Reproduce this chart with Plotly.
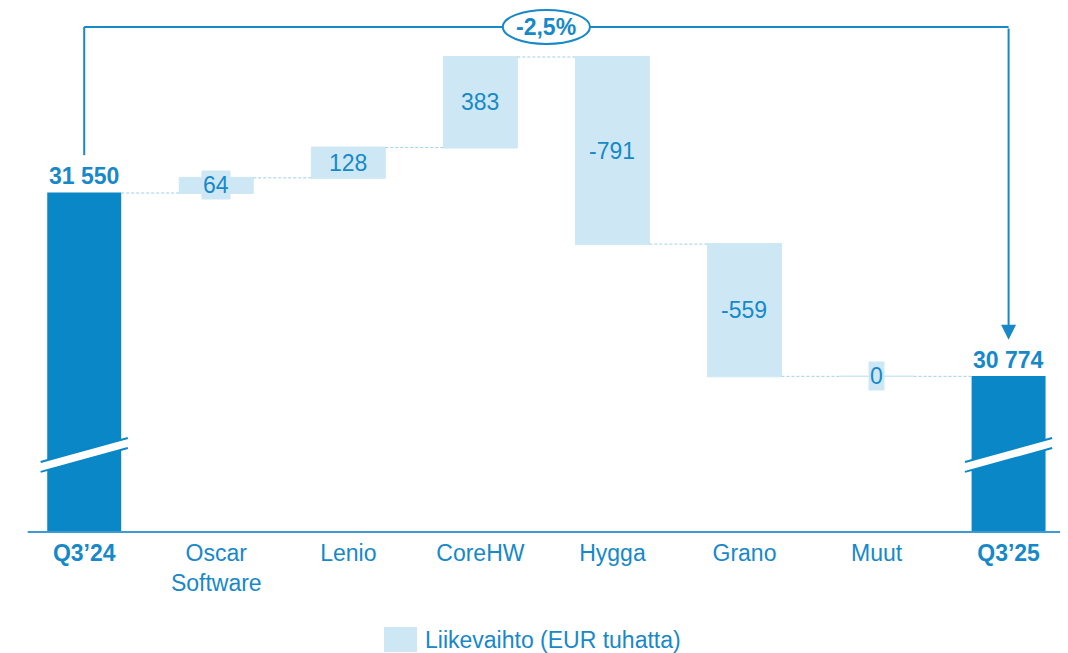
import plotly.graph_objects as go

# ---- data ----
categories = ["<b>Q3’24</b>", "Oscar<br>Software", "Lenio", "CoreHW", "Hygga", "Grano", "Muut", "<b>Q3’25</b>"]
measures = ["absolute", "relative", "relative", "relative", "relative", "relative", "relative", "absolute"]
values = [31550, 64, 128, 383, -791, -559, 0, 30774]
value_labels = ["31 550", "64", "128", "383", "-791", "-559", "0", "30 774"]
change_label = "-2,5%"
legend_label = "Liikevaihto (EUR tuhatta)"

# ---- styles ----
DARK = "#0987c6"
LIGHT = "#cde8f4"
TEXT = "#1788c8"
CONN = "#9fd0ea"
FONT = "Arial, Liberation Sans, sans-serif"
FS = 23

# page body has an 8px margin -> figure is 8px smaller
W, H = 1060, 645
ML, MR, MT, MB = 30, 0, 0, 121
Y0, Y1 = 30117, 32332
X0, X1 = -0.35, 7.45
BW = 0.56

xs = list(range(len(categories)))

fig = go.Figure()
fig.add_trace(go.Waterfall(
    x=xs, y=values, measure=measures,
    width=BW,
    textinfo="none",
    increasing=dict(marker=dict(color=LIGHT, line=dict(color=LIGHT, width=1))),
    decreasing=dict(marker=dict(color=LIGHT, line=dict(color=LIGHT, width=1))),
    totals=dict(marker=dict(color=DARK, line=dict(color=DARK, width=0))),
    connector=dict(mode="between", line=dict(color=CONN, width=1, dash="3px,2px")),
    showlegend=False,
    hoverinfo="skip",
))

# cumulative levels for label placement
levels = []
run = 0
for m, v in zip(measures, values):
    if m == "absolute":
        run = v
        levels.append((0, run))
    else:
        start = run
        run = run + v
        levels.append((start, run))

shapes = []
annotations = []
for i, (m, (a, b)) in enumerate(zip(measures, levels)):
    if m == "absolute":
        annotations.append(dict(x=i, y=b, text=f"<b>{value_labels[i]}</b>", showarrow=False,
                                yanchor="bottom", yshift=2, font=dict(size=FS, color=TEXT, family=FONT)))
    else:
        if a == b:
            # zero-height bar drawn as a thin line
            shapes.append(dict(type="line", xref="x", yref="y", x0=i - BW / 2, x1=i + BW / 2,
                               y0=a, y1=b, line=dict(color=LIGHT, width=1.5)))
        annotations.append(dict(x=i, y=(a + b) / 2, text=value_labels[i], showarrow=False,
                                bgcolor=LIGHT, borderpad=1,
                                font=dict(size=FS, color=TEXT, family=FONT)))

# change arrow
top_y = 32252
start_v = values[0]
end_v = values[-1]
shapes.append(dict(type="line", xref="x", yref="y", x0=0, x1=0, y0=start_v + 160, y1=top_y,
                   line=dict(color=TEXT, width=2)))
shapes.append(dict(type="line", xref="x", yref="y", x0=0, x1=7, y0=top_y, y1=top_y,
                   line=dict(color=TEXT, width=2)))
annotations.append(dict(x=7, y=end_v + 156, ax=7, ay=top_y, axref="x", ayref="y", xref="x", yref="y",
                        text="", showarrow=True, arrowhead=2, arrowsize=1.5, arrowwidth=2,
                        arrowcolor=TEXT, standoff=0, startstandoff=0))
shapes.append(dict(type="circle", xref="x", yref="y", x0=3.5 - 0.33, x1=3.5 + 0.33,
                   y0=top_y - 72, y1=top_y + 72, fillcolor="white", line=dict(color=TEXT, width=2)))
annotations.append(dict(x=3.5, y=top_y, text=f"<b>{change_label}</b>", showarrow=False,
                        font=dict(size=FS, color=TEXT, family=FONT)))

# axis break marks on total bars
for i in (0, 7):
    xl, xr = i - 0.33, i + 0.33
    ul, ur = 30413, 30514
    ll, lr = 30371, 30472
    shapes.append(dict(type="path", xref="x", yref="y",
                       path=f"M {xl},{ul} L {xr},{ur} L {xr},{lr} L {xl},{ll} Z",
                       fillcolor="white", line=dict(width=0)))
    shapes.append(dict(type="line", xref="x", yref="y", x0=xl, x1=xr, y0=ul, y1=ur,
                       line=dict(color=DARK, width=2)))
    shapes.append(dict(type="line", xref="x", yref="y", x0=xl, x1=xr, y0=ll, y1=lr,
                       line=dict(color=DARK, width=2)))

# baseline
shapes.append(dict(type="line", xref="paper", yref="paper", x0=-0.01, x1=1, y0=0, y1=0,
                   line=dict(color="#3d9bd1", width=2)))

# legend (custom), positions given in page pixels of the reference
pw = W - ML - MR
ph = H - MT - MB
PX0, PY0 = 38, 532  # plot-area origin in page pixels
shapes.append(dict(type="rect", xref="paper", yref="paper",
                   x0=(384 - PX0) / pw, x1=(417 - PX0) / pw,
                   y0=(PY0 - 652) / ph, y1=(PY0 - 627) / ph,
                   fillcolor=LIGHT, line=dict(width=0)))
annotations.append(dict(x=(423 - PX0) / pw, y=(PY0 - 640) / ph, xref="paper", yref="paper",
                        xanchor="left", yanchor="middle", text=legend_label, showarrow=False,
                        font=dict(size=FS, color=TEXT, family=FONT)))

fig.update_layout(
    width=W, height=H,
    margin=dict(l=ML, r=MR, t=MT, b=MB),
    paper_bgcolor="white", plot_bgcolor="white",
    font=dict(family=FONT, color=TEXT, size=FS),
    xaxis=dict(range=[X0, X1], tickmode="array", tickvals=xs, ticktext=categories,
               showgrid=False, zeroline=False, showline=False, ticks="",
               ticklabelstandoff=5,
               tickfont=dict(size=FS, color=TEXT, family=FONT)),
    yaxis=dict(range=[Y0, Y1], visible=False, showgrid=False, zeroline=False),
    shapes=shapes,
    annotations=annotations,
    showlegend=False,
)

fig.write_html("out.html")
